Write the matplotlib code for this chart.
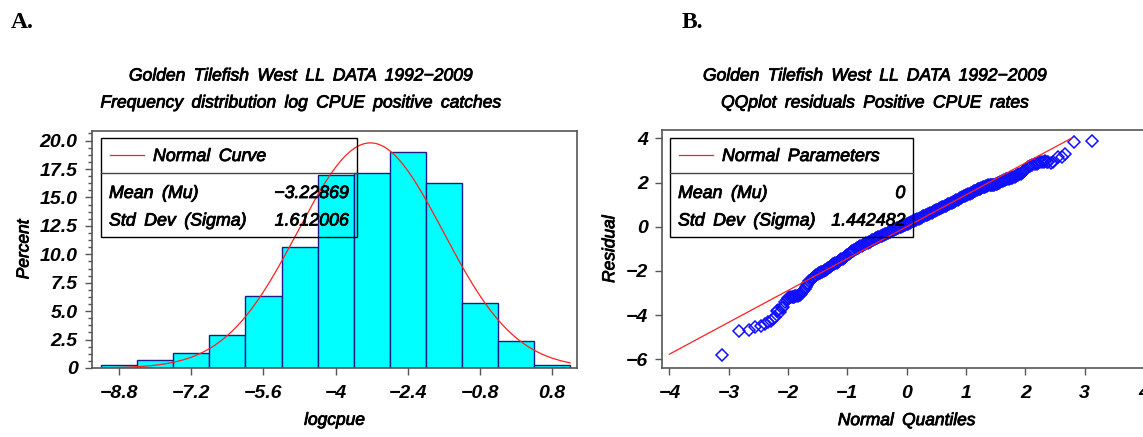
import numpy as np
import matplotlib
matplotlib.use('Agg')
import matplotlib.pyplot as plt
import matplotlib.patheffects as pe
from matplotlib.ticker import MultipleLocator
from matplotlib.patches import Rectangle
from matplotlib.lines import Line2D

# ---------------- data ----------------
bin_centers = [-8.8, -8.0, -7.2, -6.4, -5.6, -4.8, -4.0, -3.2, -2.4, -1.6, -0.8, 0.0, 0.8]
percents = [0.26, 0.70, 1.30, 2.90, 6.33, 10.62, 16.95, 17.13, 19.01, 16.23, 5.75, 2.35, 0.26]
hist_mean = -3.22869
hist_sd = 1.612006
bin_width = 0.8

# lower tail
qq_low_q = [-3.12, -2.82, -2.66, -2.55, -2.46, -2.39, -2.33, -2.29, -2.25, -2.22,
            -2.19, -2.17, -2.14, -2.11, -2.09, -2.05, -2.02]
qq_low_r = [-5.81, -4.73, -4.67, -4.54, -4.48, -4.40, -4.31, -4.25, -4.19, -4.10,
            -3.81, -3.77, -3.85, -3.70, -3.62, -3.39, -3.30]
# dense central part
qq_mid_q = [-2.00, -1.98, -1.96, -1.94, -1.92, -1.90, -1.88, -1.86, -1.84, -1.82,
            -1.80, -1.78, -1.76, -1.74, -1.72, -1.70, -1.68, -1.66, -1.64, -1.62,
            -1.60, -1.58, -1.56, -1.54, -1.52, -1.50, -1.48, -1.46, -1.44, -1.42,
            -1.40, -1.38, -1.36, -1.34, -1.32, -1.30, -1.28, -1.26, -1.24, -1.22,
            -1.20, -1.18, -1.16, -1.14, -1.12, -1.10, -1.08, -1.06, -1.04, -1.02,
            -1.00, -0.98, -0.96, -0.94, -0.92, -0.90, -0.88, -0.86, -0.84, -0.82,
            -0.80, -0.78, -0.76, -0.74, -0.72, -0.70, -0.68, -0.66, -0.64, -0.62,
            -0.60, -0.58, -0.56, -0.54, -0.52, -0.50, -0.48, -0.46, -0.44, -0.42,
            -0.40, -0.38, -0.36, -0.34, -0.32, -0.30, -0.28, -0.26, -0.24, -0.22,
            -0.20, -0.18, -0.16, -0.14, -0.12, -0.10, -0.08, -0.06, -0.04, -0.02,
            0.00, 0.02, 0.04, 0.06, 0.08, 0.10, 0.12, 0.14, 0.16, 0.18,
            0.20, 0.22, 0.24, 0.26, 0.28, 0.30, 0.32, 0.34, 0.36, 0.38,
            0.40, 0.42, 0.44, 0.46, 0.48, 0.50, 0.52, 0.54, 0.56, 0.58,
            0.60, 0.62, 0.64, 0.66, 0.68, 0.70, 0.72, 0.74, 0.76, 0.78,
            0.80, 0.82, 0.84, 0.86, 0.88, 0.90, 0.92, 0.94, 0.96, 0.98,
            1.00, 1.02, 1.04, 1.06, 1.08, 1.10, 1.12, 1.14, 1.16, 1.18,
            1.20, 1.22, 1.24, 1.26, 1.28, 1.30, 1.32, 1.34, 1.36, 1.38,
            1.40, 1.42, 1.44, 1.46, 1.48, 1.50, 1.52, 1.54, 1.56, 1.58,
            1.60, 1.62, 1.64, 1.66, 1.68, 1.70, 1.72, 1.74, 1.76, 1.78,
            1.80, 1.82, 1.84, 1.86, 1.88, 1.90, 1.92, 1.94, 1.96, 1.98,
            2.00, 2.02]
qq_mid_r = [-3.24, -3.22, -3.20, -3.18, -3.17, -3.16, -3.15, -3.14, -3.12, -3.10,
            -3.08, -3.03, -2.97, -2.90, -2.80, -2.71, -2.62, -2.54, -2.47, -2.42,
            -2.37, -2.32, -2.27, -2.22, -2.18, -2.15, -2.11, -2.08, -2.05, -2.03,
            -2.01, -1.98, -1.94, -1.90, -1.86, -1.82, -1.78, -1.74, -1.71, -1.68,
            -1.65, -1.62, -1.59, -1.55, -1.52, -1.48, -1.44, -1.40, -1.37, -1.33,
            -1.29, -1.25, -1.20, -1.16, -1.12, -1.08, -1.04, -1.01, -0.98, -0.95,
            -0.92, -0.89, -0.86, -0.83, -0.80, -0.77, -0.75, -0.72, -0.70, -0.67,
            -0.64, -0.61, -0.58, -0.56, -0.53, -0.50, -0.48, -0.46, -0.43, -0.41,
            -0.38, -0.36, -0.33, -0.31, -0.28, -0.26, -0.23, -0.20, -0.18, -0.15,
            -0.12, -0.10, -0.07, -0.05, -0.03, -0.01, 0.02, 0.04, 0.07, 0.09,
            0.12, 0.14, 0.17, 0.19, 0.22, 0.24, 0.27, 0.29, 0.31, 0.33,
            0.36, 0.38, 0.41, 0.44, 0.47, 0.49, 0.52, 0.54, 0.57, 0.59,
            0.62, 0.64, 0.67, 0.69, 0.72, 0.75, 0.78, 0.80, 0.83, 0.85,
            0.88, 0.91, 0.94, 0.96, 0.99, 1.01, 1.04, 1.06, 1.09, 1.11,
            1.14, 1.17, 1.20, 1.22, 1.25, 1.28, 1.31, 1.34, 1.37, 1.40,
            1.43, 1.45, 1.48, 1.50, 1.53, 1.55, 1.58, 1.61, 1.64, 1.66,
            1.69, 1.71, 1.73, 1.75, 1.78, 1.80, 1.82, 1.84, 1.86, 1.87,
            1.88, 1.89, 1.90, 1.90, 1.91, 1.92, 1.94, 1.96, 1.99, 2.02,
            2.05, 2.07, 2.10, 2.12, 2.14, 2.16, 2.18, 2.19, 2.21, 2.22,
            2.25, 2.27, 2.30, 2.33, 2.36, 2.38, 2.41, 2.44, 2.48, 2.52,
            2.57, 2.62]
# upper tail
qq_high_q = [2.05, 2.08, 2.11, 2.16, 2.19, 2.22, 2.25, 2.28, 2.31, 2.33,
             2.36, 2.39, 2.43, 2.47, 2.56, 2.62, 2.67, 2.82, 3.12]
qq_high_r = [2.71, 2.76, 2.79, 2.82, 2.86, 2.87, 2.92, 2.94, 2.95, 2.97,
             2.91, 2.94, 2.90, 2.94, 3.17, 3.15, 3.28, 3.82, 3.89]
qq_mean = 0.0
qq_sd = 1.442482
qq_line_x = [-4.0, 2.77]

x_ticks_hist = [-8.8, -7.2, -5.6, -4.0, -2.4, -0.8, 0.8]
x_ticklabels_hist = ['\u22128.8', '\u22127.2', '\u22125.6', '\u22124', '\u22122.4', '\u22120.8', '0.8']
y_ticks_hist = [0, 2.5, 5, 7.5, 10, 12.5, 15, 17.5, 20]
y_ticklabels_hist = ['0', '2.5', '5.0', '7.5', '10.0', '12.5', '15.0', '17.5', '20.0']
x_ticks_qq = [-4, -3, -2, -1, 0, 1, 2, 3, 4]
y_ticks_qq = [-6, -4, -2, 0, 2, 4]

# ---------------- figure ----------------
W, H = 1143, 437
fig = plt.figure(figsize=(W / 100, H / 100), dpi=100)
plt.rcParams['font.family'] = ['Liberation Sans', 'DejaVu Sans']


def fx(px):
    return px / W


def fy(py):
    return 1 - py / H


SPINE = '#555555'
HEAVY = [pe.withStroke(linewidth=0.6, foreground='black')]
TXT = dict(family=['Liberation Sans', 'DejaVu Sans'], style='italic', path_effects=HEAVY)
SP = ' \u2009'  # slightly wider word spacing


def spaced(s):
    return s.replace(' ', SP)


def style_axes(ax):
    for s in ax.spines.values():
        s.set_color(SPINE)
        s.set_linewidth(1.2)
    ax.tick_params(which='major', direction='out', length=5, width=1, color=SPINE,
                   labelsize=14, pad=5)
    ax.tick_params(which='minor', direction='out', length=3, width=1, color=SPINE)
    for lab in ax.get_xticklabels() + ax.get_yticklabels():
        lab.set_fontstyle('italic')
        lab.set_fontweight('bold')


# ---- Panel A: histogram ----
ax1 = fig.add_axes([fx(91.7), fy(368), (577.3 - 91.7) / W, (368 - 130.7) / H])
ax1.bar(bin_centers, percents, width=bin_width, color='#00FFFF', edgecolor='#1c1c88',
        linewidth=1.0, zorder=2)
xs = np.linspace(bin_centers[0] - bin_width / 2, bin_centers[-1] + bin_width / 2, 400)
ys = 100 * bin_width * np.exp(-0.5 * ((xs - hist_mean) / hist_sd) ** 2) / (hist_sd * np.sqrt(2 * np.pi))
ax1.plot(xs, ys, color='#FF2020', lw=0.9, zorder=3)
ax1.set_xlim(-9.41, 1.36)
ax1.set_ylim(0, 20.87)
ax1.set_xticks(x_ticks_hist)
ax1.set_xticklabels(x_ticklabels_hist)
ax1.set_yticks(y_ticks_hist)
ax1.set_yticklabels(y_ticklabels_hist)
ax1.yaxis.set_minor_locator(MultipleLocator(0.625))
style_axes(ax1)
ax1.tick_params(axis='x', pad=7)
ax1.set_xlabel('logcpue', fontsize=12.5, labelpad=8, **TXT)
ax1.set_ylabel('Percent', fontsize=12.5, labelpad=6, **TXT)

# ---- Panel B: QQ plot ----
ax2 = fig.add_axes([fx(661.7), fy(368.3), (1151.6 - 661.7) / W, (368.3 - 130) / H])
ax2.plot(qq_line_x, [qq_mean + qq_sd * v for v in qq_line_x], color='#FF2020', lw=0.9, zorder=3)
qq_q = qq_low_q + qq_mid_q + qq_high_q
qq_r = qq_low_r + qq_mid_r + qq_high_r
ax2.plot(qq_q, qq_r, linestyle='none', marker='D', markersize=6,
         markerfacecolor='none', markeredgecolor='#1010FF', markeredgewidth=1.1, zorder=2)
ax2.set_xlim(-4.13, 4.13)
ax2.set_ylim(-6.41, 4.38)
ax2.set_xticks(x_ticks_qq)
ax2.set_xticklabels([('\u2212' + str(-v)) if v < 0 else str(v) for v in x_ticks_qq])
ax2.set_yticks(y_ticks_qq)
ax2.set_yticklabels([('\u2212' + str(-v)) if v < 0 else str(v) for v in y_ticks_qq])
style_axes(ax2)
ax2.tick_params(axis='x', pad=7)
ax2.set_xlabel(spaced('Normal Quantiles'), fontsize=12.5, labelpad=8, **TXT)
ax2.set_ylabel('Residual', fontsize=12.5, labelpad=6, **TXT)

# ---- titles ----
fs_title = 12.6
fig.text(fx(301), fy(76), spaced('Golden Tilefish West LL DATA 1992\u22122009'), ha='center',
         va='center', fontsize=fs_title, **TXT)
fig.text(fx(301), fy(103), spaced('Frequency distribution log CPUE positive catches'), ha='center',
         va='center', fontsize=fs_title, **TXT)
fig.text(fx(875), fy(76), spaced('Golden Tilefish West LL DATA 1992\u22122009'), ha='center',
         va='center', fontsize=fs_title, **TXT)
fig.text(fx(875), fy(103), spaced('QQplot residuals Positive CPUE rates'), ha='center',
         va='center', fontsize=fs_title, **TXT)

# panel letters
fig.text(fx(11), fy(22), 'A.', ha='left', va='center', fontsize=17, fontweight='bold',
         family='Liberation Serif')
fig.text(fx(682), fy(22), 'B.', ha='left', va='center', fontsize=17, fontweight='bold',
         family='Liberation Serif')


# ---- legend boxes ----
def legend_box(x0, x1, label, rows):
    y0, ydiv, y1 = 138.3, 173.3, 236.5
    fig.add_artist(Rectangle((fx(x0), fy(y1)), fx(x1) - fx(x0), fy(y0) - fy(y1),
                             transform=fig.transFigure, fill=False, edgecolor='black', lw=1.0))
    fig.add_artist(Line2D([fx(x0), fx(x1)], [fy(ydiv), fy(ydiv)], transform=fig.transFigure,
                          color='#444444', lw=1.0))
    fig.add_artist(Line2D([fx(x0 + 9), fx(x0 + 43)], [fy(155), fy(155)], transform=fig.transFigure,
                          color='#FF2020', lw=0.9))
    fig.text(fx(x0 + 52), fy(156.5), spaced(label), ha='left', va='center', fontsize=12.8, **TXT)
    for (name, val), yy in zip(rows, [193.5, 221]):
        fig.text(fx(x0 + 8), fy(yy), spaced(name), ha='left', va='center', fontsize=12.8, **TXT)
        fig.text(fx(x1 - 8), fy(yy), val, ha='right', va='center', fontsize=12.8, **TXT)


legend_box(101, 356.7, 'Normal Curve',
           [('Mean (Mu)', '\u22123.22869'), ('Std Dev (Sigma)', '1.612006')])
legend_box(670, 913.3, 'Normal Parameters',
           [('Mean (Mu)', '0'), ('Std Dev (Sigma)', '1.442482')])

fig.savefig('out.png', dpi=100)
